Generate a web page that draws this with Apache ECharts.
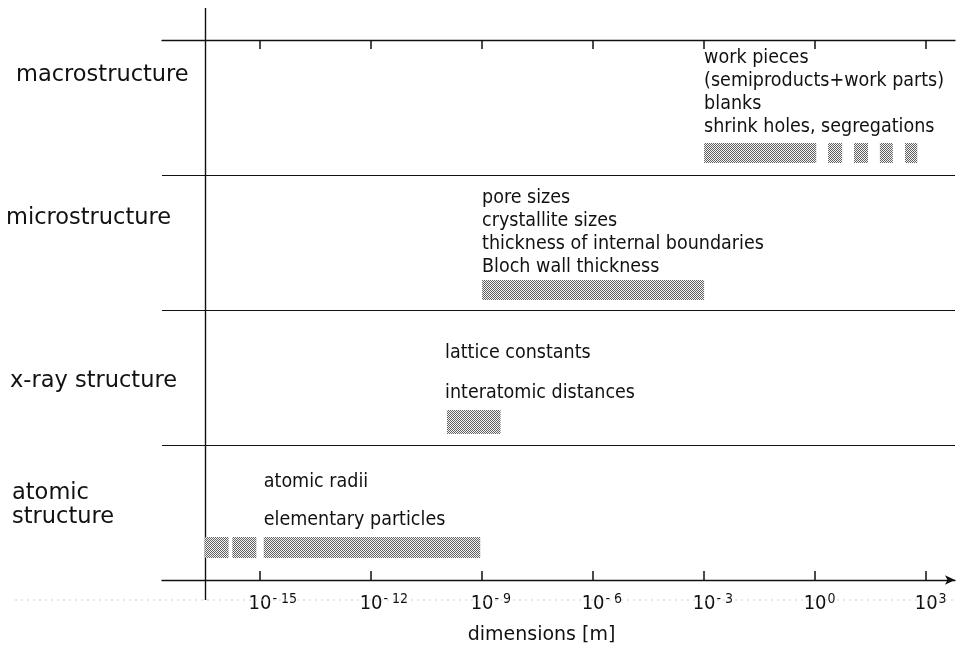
<!DOCTYPE html>
<html>
<head>
<meta charset="utf-8">
<script src="https://cdn.jsdelivr.net/npm/echarts@6/dist/echarts.min.js"></script>
<style>
  html, body { margin: 0; padding: 0; background: #fff; }
  #chart { width: 960px; height: 648px; }
</style>
</head>
<body>
<div id="chart"></div>
<script>
// ---------------- data (dimensions as log10 of metres) ----------------
const categories = ['atomic structure', 'x-ray structure', 'microstructure', 'macrostructure'];
const rowLabels = [['atomic', 'structure'], ['x-ray structure'], ['microstructure'], ['macrostructure']];

const atomicRanges = [[-16.5, -15.85], [-15.75, -15.1], [-14.9, -9.05]];
const xrayRanges   = [[-9.95, -8.5]];
const microRanges  = [[-9.0, -3.0]];
const macroRanges  = [[-3.0, 0.03], [0.35, 0.73], [1.05, 1.43], [1.75, 2.1], [2.43, 2.76]];

const atomicTexts = ['atomic radii', 'elementary particles'];
const xrayTexts   = ['lattice constants', 'interatomic distances'];
const microTexts  = ['pore sizes', 'crystallite sizes', 'thickness of internal boundaries', 'Bloch wall thickness'];
const macroTexts  = ['work pieces', '(semiproducts+work parts)', 'blanks', 'shrink holes, segregations'];

const textAnchors = [-14.9, -10.0, -9.0, -3.0];   // log10(m) where each text block starts
const tickExponents = [-15, -12, -9, -6, -3, 0, 3];
const axisMin = -17.65, axisMax = 3.78, yAxisAt = -16.5;

// ---------------- layout / style (pixels) ----------------
const barShift  = [35, 44.5, 47.5, 45.5];   // bar centre below band centre
const barHeight = [21, 24, 20, 20];
const lineGap   = [38, 40, 23, 23];          // spacing of text lines
const textGap   = [17, 17, 13, 16];          // last text line centre above bar top
const rowLabelX = [12, 10, 6, 16];           // px from left edge of chart
const rowLabelDy = [-7.5, 4, -24.5, -32];    // label block centre vs band centre
const FONT = "'DejaVu Sans Condensed', 'Liberation Sans Narrow', sans-serif";
const FONT_WIDE = "'DejaVu Sans', sans-serif";

function makePattern() {
  const c = document.createElement('canvas');
  c.width = 2; c.height = 2;
  const g = c.getContext('2d');
  g.fillStyle = '#f4f4f4'; g.fillRect(0, 0, 2, 2);
  g.fillStyle = '#606060'; g.fillRect(0, 0, 1, 1); g.fillRect(1, 1, 1, 1);
  return c;
}
const pattern = { image: makePattern(), repeat: 'repeat' };

const rowsRanges = [atomicRanges, xrayRanges, microRanges, macroRanges];
const rowsTexts = [atomicTexts, xrayTexts, microTexts, macroTexts];

const barData = [];
rowsRanges.forEach((ranges, row) => ranges.forEach(r => barData.push([r[0], r[1], row])));
const textData = textAnchors.map((x, row) => [x, row]);

const chart = echarts.init(document.getElementById('chart'), null, { renderer: 'canvas' });

const tickLabelFmt = v => {
  const e = v < 0 ? '- ' + Math.abs(v) : String(v);
  // invisible copy of the exponent on the left keeps "10" centred on the tick
  return '{h|' + e + '}{b|10}{s|' + e + '}';
};

const option = {
  animation: false,
  backgroundColor: '#fff',
  textStyle: { fontFamily: FONT },
  grid: { left: 162, right: 5, top: 40, bottom: 68, containLabel: false, outerBoundsMode: 'none' },
  xAxis: [
    {
      type: 'value', position: 'bottom', min: axisMin, max: axisMax,
      axisLine: { show: true, lineStyle: { color: '#111', width: 1.3 }, symbol: ['none', 'arrow'], symbolSize: [7, 10] },
      axisTick: { show: true, inside: true, length: 9, customValues: tickExponents, lineStyle: { color: '#111', width: 1.5 } },
      axisLabel: {
        show: true, customValues: tickExponents, margin: 12, formatter: tickLabelFmt,
        rich: {
          h: { fontFamily: FONT, fontSize: 14, color: 'rgba(0,0,0,0)', verticalAlign: 'top', lineHeight: 22, padding: [0, 1, 10, 0] },
          b: { fontFamily: FONT, fontSize: 20, color: '#111', verticalAlign: 'bottom', lineHeight: 22 },
          s: { fontFamily: FONT, fontSize: 14, color: '#111', verticalAlign: 'top', lineHeight: 22, padding: [0, 0, 10, 1] }
        }
      },
      splitLine: { show: false },
      name: 'dimensions [m]', nameLocation: 'middle', nameGap: 46,
      nameTextStyle: { fontFamily: FONT_WIDE, fontSize: 19, color: '#111', padding: [0, 34, 0, 0] }
    },
    {
      type: 'value', position: 'top', min: axisMin, max: axisMax,
      axisLine: { show: true, lineStyle: { color: '#111', width: 1.3 } },
      axisTick: { show: true, inside: true, length: 9, customValues: tickExponents, lineStyle: { color: '#111', width: 1.5 } },
      axisLabel: { show: false },
      splitLine: { show: false }
    }
  ],
  yAxis: {
    type: 'category',
    data: categories,
    boundaryGap: true,
    axisLine: { show: false },
    axisTick: { show: false },
    axisLabel: { show: false },
    splitLine: { show: true, lineStyle: { color: '#111', width: 1.2 } }
  },
  series: [
    {
      type: 'custom', name: 'y-axis line', xAxisIndex: 0, data: [[yAxisAt]], silent: true, clip: false,
      renderItem(params, api) {
        const cs = params.coordSys;
        const x = Math.round(api.coord([api.value(0), 0])[0]) + 0.5;
        const yb = cs.y + cs.height + 20;
        return {
          type: 'group',
          children: [
            { type: 'line', shape: { x1: 15, y1: yb, x2: cs.x + cs.width, y2: yb },
              style: { stroke: '#cfcfcf', lineWidth: 1, lineDash: [2, 4] } },
            { type: 'line', shape: { x1: x, y1: cs.y - 32, x2: x, y2: yb },
              style: { stroke: '#111', lineWidth: 1.4 } }
          ]
        };
      }
    },
    {
      type: 'custom', name: 'row labels', xAxisIndex: 0, data: categories.map((c, i) => [axisMin, i]),
      encode: { x: 0, y: 1 }, clip: false, silent: true,
      renderItem(params, api) {
        const row = api.value(1);
        const cy = api.coord([api.value(0), row])[1] + rowLabelDy[row];
        const lines = rowLabels[row];
        const lh = 24;
        return {
          type: 'group',
          children: lines.map((t, i) => ({
            type: 'text',
            style: {
              text: t, x: rowLabelX[row], y: cy + (i - (lines.length - 1) / 2) * lh,
              fill: '#111', font: '22.5px ' + FONT_WIDE, textAlign: 'left', textVerticalAlign: 'middle'
            }
          }))
        };
      }
    },
    {
      type: 'custom', name: 'ranges', xAxisIndex: 0, data: barData, encode: { x: [0, 1], y: 2 },
      renderItem(params, api) {
        const row = api.value(2);
        const p0 = api.coord([api.value(0), row]);
        const p1 = api.coord([api.value(1), row]);
        const h = barHeight[row];
        const cy = p0[1] + barShift[row];
        return { type: 'rect', shape: { x: p0[0], y: cy - h / 2, width: p1[0] - p0[0], height: h },
                 style: { fill: pattern } };
      }
    },
    {
      type: 'custom', name: 'texts', xAxisIndex: 0, data: textData, encode: { x: 0, y: 1 }, clip: false,
      renderItem(params, api) {
        const row = api.value(1);
        const p = api.coord([api.value(0), row]);
        const barTop = p[1] + barShift[row] - barHeight[row] / 2;
        const lines = rowsTexts[row];
        const n = lines.length;
        return {
          type: 'group',
          children: lines.map((t, i) => ({
            type: 'text',
            style: {
              text: t, x: p[0], y: barTop - textGap[row] - (n - 1 - i) * lineGap[row],
              fill: '#111', font: '19.5px ' + FONT, textAlign: 'left', textVerticalAlign: 'middle'
            }
          }))
        };
      }
    }
  ]
};
chart.setOption(option);
</script>
</body>
</html>
